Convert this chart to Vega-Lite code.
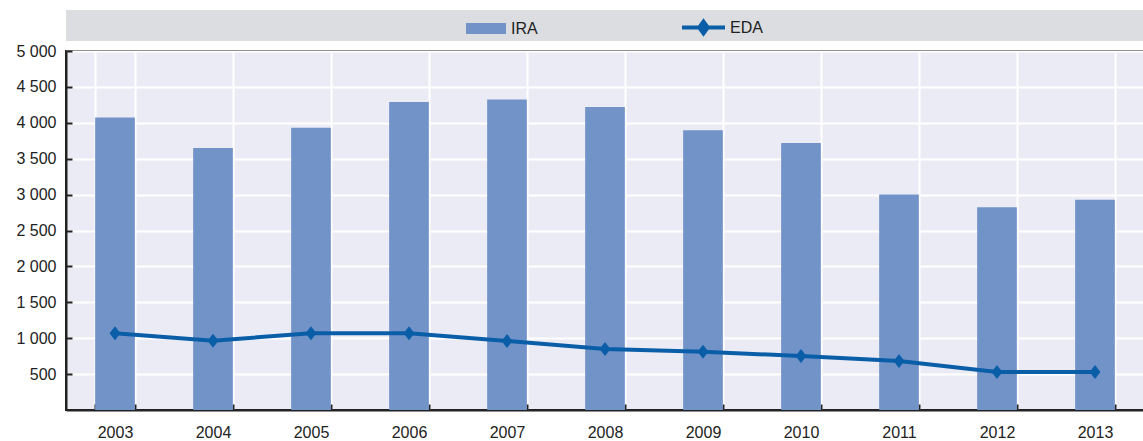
{
  "$schema": "https://vega.github.io/schema/vega-lite/v6.json",
  "padding": {"left": 14, "top": 4, "right": 0, "bottom": 0},
  "autosize": {"type": "pad"},
  "bounds": "flush",
  "spacing": 10,
  "config": {
    "font": "Liberation Sans",
    "axis": {
      "labelFont": "Liberation Sans",
      "labelFontSize": 16,
      "labelColor": "#222222",
      "domainColor": "#222222",
      "domainWidth": 2,
      "tickColor": "#222222",
      "tickWidth": 2,
      "gridColor": "#ffffff",
      "gridWidth": 2,
      "gridOpacity": 1,
      "labelOverlap": false,
      "title": null
    },
    "legend": {
      "labelFont": "Liberation Sans",
      "labelFontSize": 16,
      "labelColor": "#222222",
      "padding": 0
    }
  },
  "vconcat": [
    {
      "width": 1078,
      "height": 31,
      "view": {"fill": "#dcdde0", "stroke": null},
      "data": {"values": [{"t": ""}]},
      "mark": {"type": "text"},
      "encoding": {"text": {"field": "t"}}
    },
    {
      "width": 1078,
      "height": 359,
      "view": {"fill": "#ebebf5", "stroke": "#222222", "strokeWidth": 2},
      "data": {
        "values": [
          {"year": "2003", "IRA": 4075, "EDA": 1070},
          {"year": "2004", "IRA": 3650, "EDA": 965},
          {"year": "2005", "IRA": 3930, "EDA": 1068},
          {"year": "2006", "IRA": 4290, "EDA": 1068},
          {"year": "2007", "IRA": 4325, "EDA": 961},
          {"year": "2008", "IRA": 4220, "EDA": 850},
          {"year": "2009", "IRA": 3895, "EDA": 810},
          {"year": "2010", "IRA": 3720, "EDA": 752},
          {"year": "2011", "IRA": 3003, "EDA": 682},
          {"year": "2012", "IRA": 2823, "EDA": 530},
          {"year": "2013", "IRA": 2928, "EDA": 530}
        ]
      },
      "encoding": {
        "x": {
          "field": "year",
          "type": "ordinal",
          "scale": {"paddingInner": 0.595, "paddingOuter": 0.2975},
          "axis": {
            "labelAngle": 0,
            "tickBand": "extent",
            "grid": true,
            "tickSize": -6,
            "labelPadding": 20
          }
        }
      },
      "layer": [
        {
          "mark": {"type": "bar"},
          "encoding": {
            "y": {
              "field": "IRA",
              "type": "quantitative",
              "scale": {"domain": [0, 5000], "nice": false},
              "axis": {
                "values": [500, 1000, 1500, 2000, 2500, 3000, 3500, 4000, 4500, 5000],
                "labelExpr": "replace(format(datum.value, ','), ',', ' ')",
                "labelOverlap": false,
                "labelFlush": false,
                "tickSize": -6,
                "labelPadding": 16
              }
            },
            "fill": {
              "datum": "IRA",
              "scale": {"domain": ["IRA"], "range": ["#7293c8"]},
              "legend": {
                "title": null,
                "orient": "none",
                "legendX": 400,
                "legendY": -1.5,
                "symbolType": "M-1,-0.275L1,-0.275L1,0.275L-1,0.275Z",
                "symbolSize": 1600,
                "symbolStrokeWidth": 0,
                "labelOffset": 5
              }
            }
          }
        },
        {
          "mark": {"type": "line", "strokeWidth": 4},
          "encoding": {
            "y": {
              "field": "EDA",
              "type": "quantitative",
              "axis": {
                "values": [500, 1000, 1500, 2000, 2500, 3000, 3500, 4000, 4500, 5000],
                "labelExpr": "replace(format(datum.value, ','), ',', ' ')",
                "labelOverlap": false,
                "labelFlush": false,
                "tickSize": -6,
                "labelPadding": 16
              }
            },
            "stroke": {
              "datum": "EDA",
              "scale": {"domain": ["EDA"], "range": ["#0a5ea8"]},
              "legend": {
                "title": null,
                "orient": "none",
                "legendX": 614,
                "legendY": -6,
                "symbolType": "M-1,0L1,0M0,-0.27L0.2,0L0,0.27L-0.2,0Z",
                "symbolSize": 1849,
                "symbolStrokeWidth": 4,
                "symbolFillColor": "#0a5ea8",
                "labelOffset": 3
              }
            }
          }
        },
        {
          "mark": {"type": "point", "shape": "M0,-1L0.78,0L0,1L-0.78,0Z", "filled": true, "size": 196, "opacity": 1, "color": "#0a5ea8"},
          "encoding": {
            "y": {
              "field": "EDA",
              "type": "quantitative",
              "axis": {
                "values": [500, 1000, 1500, 2000, 2500, 3000, 3500, 4000, 4500, 5000],
                "labelExpr": "replace(format(datum.value, ','), ',', ' ')",
                "labelOverlap": false,
                "labelFlush": false,
                "tickSize": -6,
                "labelPadding": 16
              }
            }
          }
        }
      ]
    }
  ]
}
